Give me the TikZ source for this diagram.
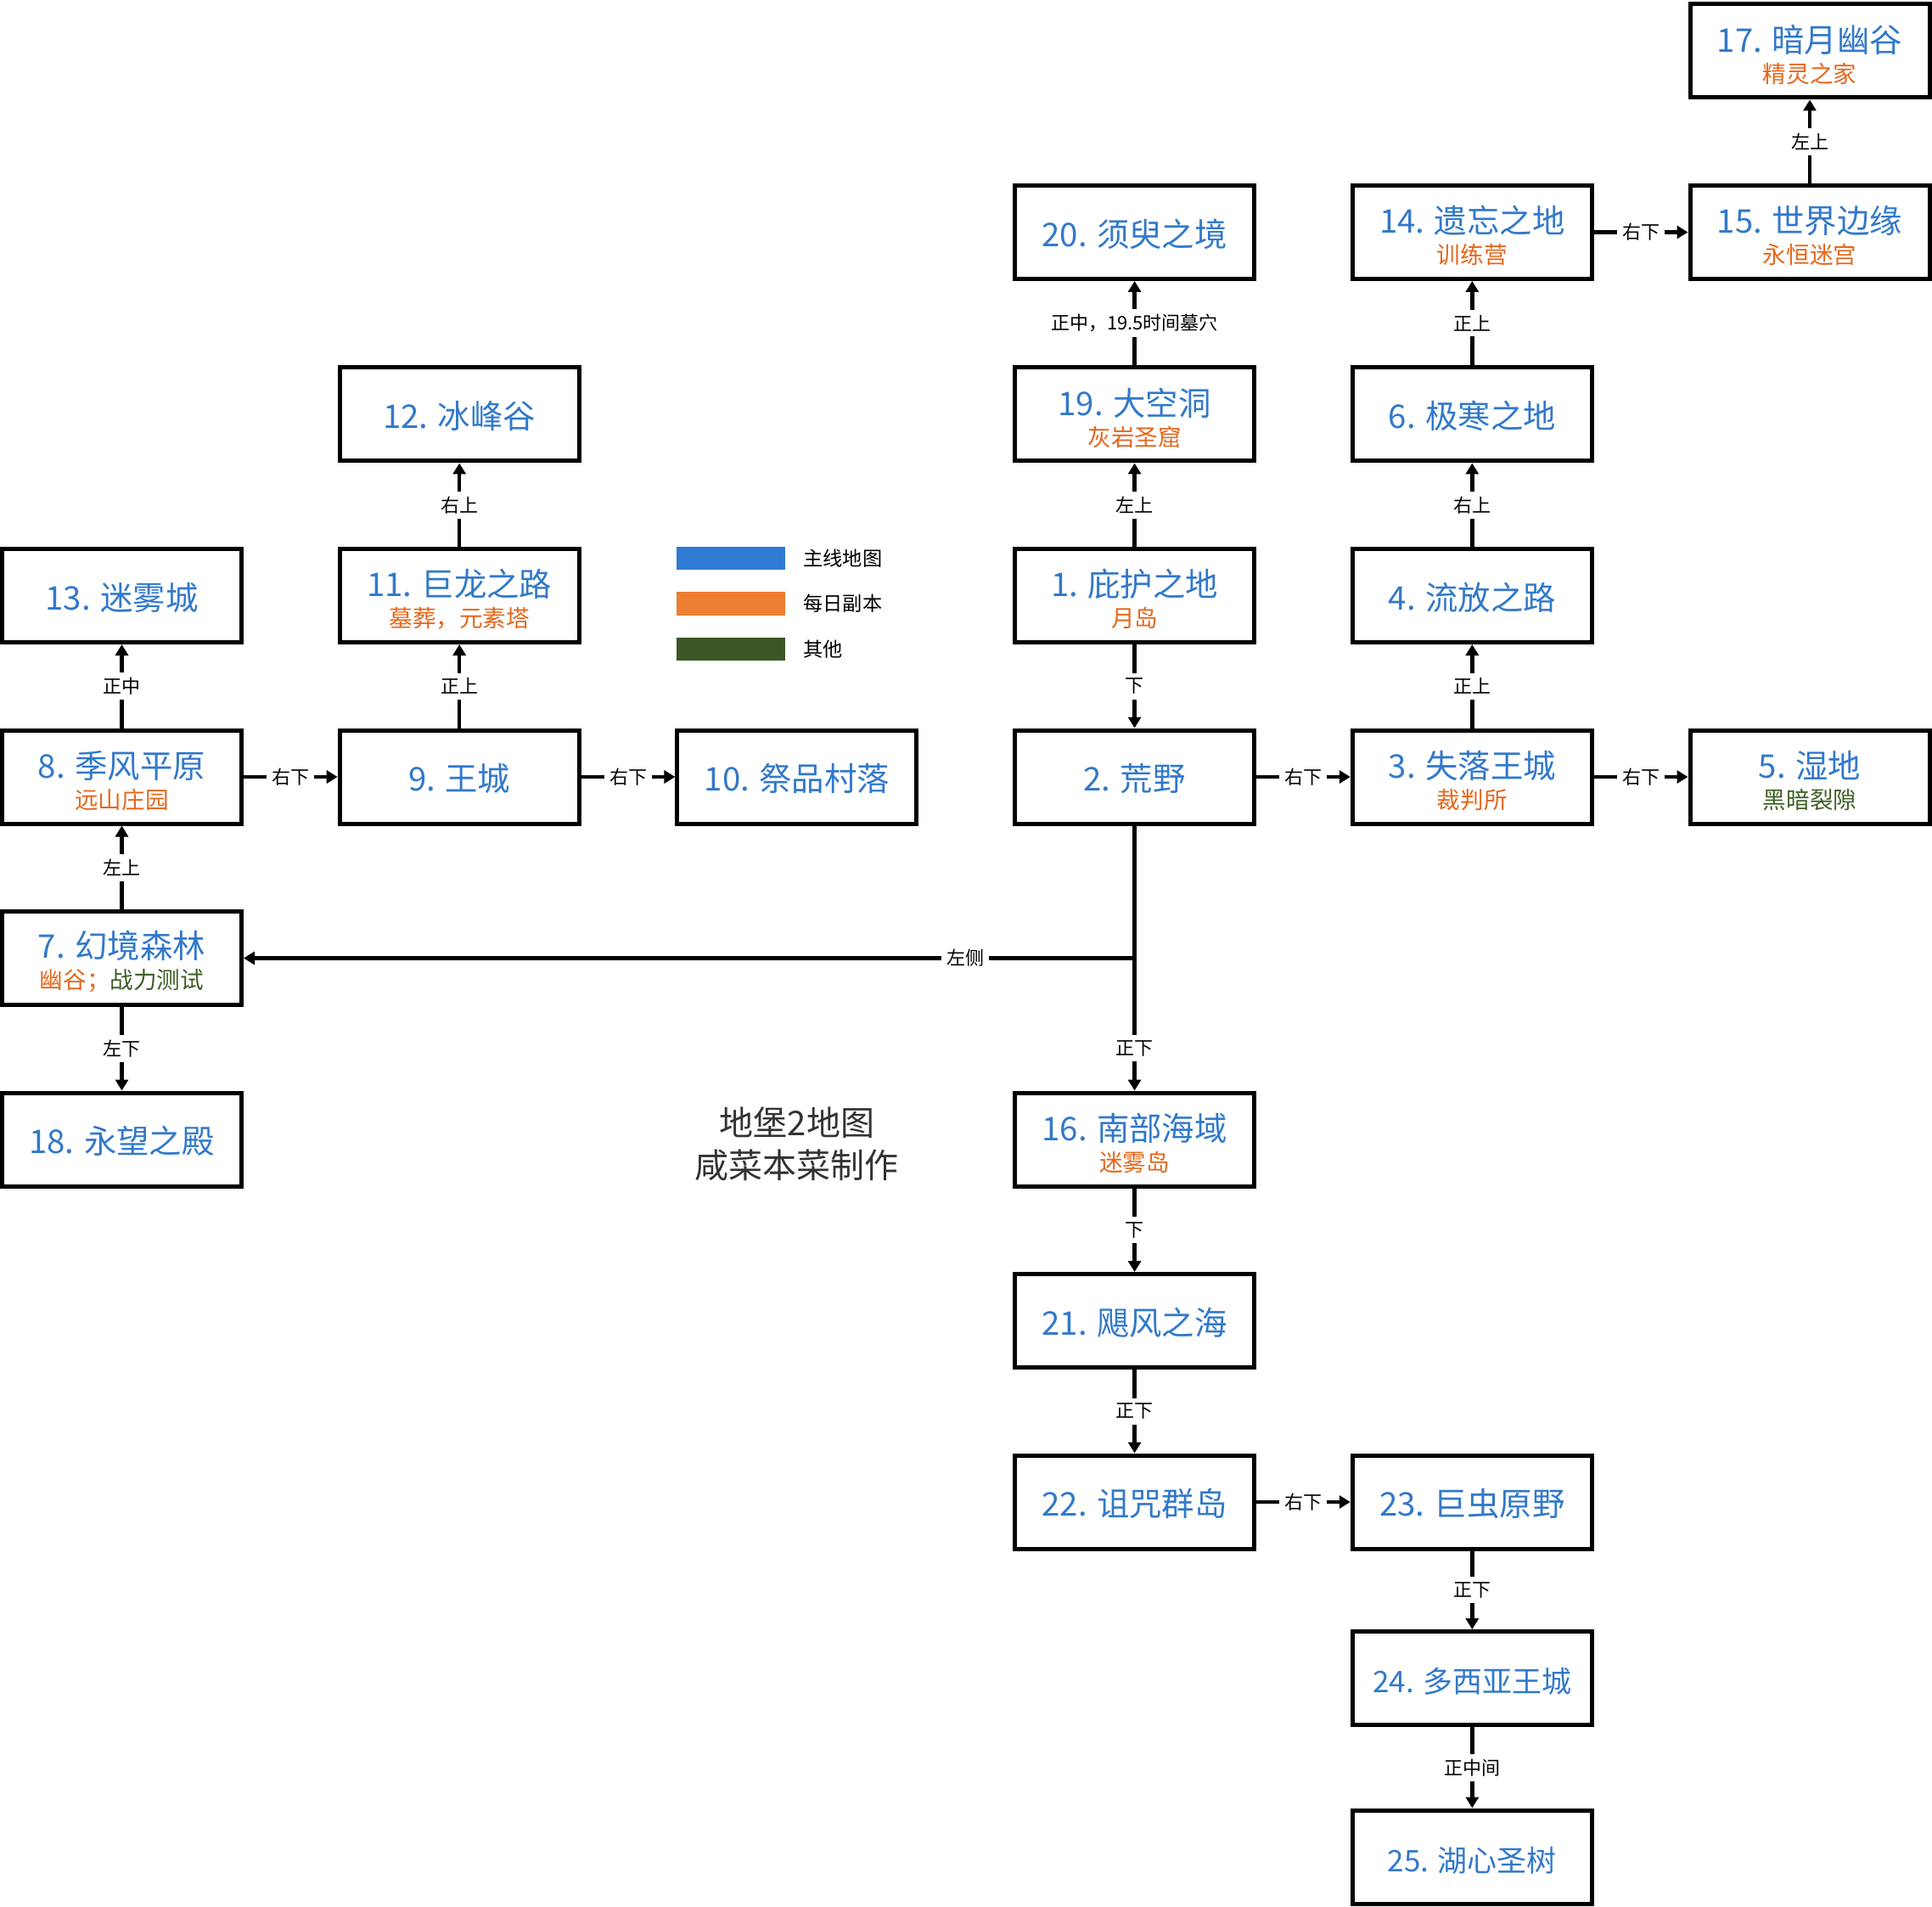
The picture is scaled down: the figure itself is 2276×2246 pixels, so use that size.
\documentclass[tikz,border=0pt]{standalone}
\usepackage{fontspec}
\setmainfont{Noto Sans CJK SC}
\usetikzlibrary{arrows.meta}
\definecolor{mblue}{HTML}{3279C9}
\definecolor{morange}{HTML}{E5661B}
\definecolor{mgreen}{HTML}{3E5F24}
\definecolor{lgblue}{HTML}{2F7BD4}
\definecolor{lgorange}{HTML}{ED7D31}
\definecolor{lggreen}{HTML}{3C5726}
\definecolor{titlegray}{HTML}{333333}
\newcommand{\subo}[1]{\rule{0pt}{20.5pt}\\{\fontsize{13.8pt}{18pt}\selectfont\color{morange}#1}}
\newcommand{\subg}[1]{\rule{0pt}{20.5pt}\\{\fontsize{13.8pt}{18pt}\selectfont\color{mgreen}#1}}
\newcommand{\subog}[2]{\rule{0pt}{20.5pt}\\{\fontsize{13.8pt}{18pt}\selectfont\color{morange}#1\color{mgreen}#2}}
\newcommand{\onel}{\rule{0pt}{18.5pt}}
\tikzset{
  mapbox/.style={draw=black, line width=2.5pt, minimum width=141pt, minimum height=55pt,
    inner sep=0pt, align=center, text=mblue, font=\fontsize{19.2pt}{18pt}\selectfont},
  smallbox/.style={mapbox, font=\fontsize{17.5pt}{18pt}\selectfont},
  conn/.style={line width=2.2pt, -{Triangle[width=7.5pt,length=6.5pt]}},
  lbl/.style={fill=white, inner xsep=3pt, inner ysep=3pt, text=black,
    font=\fontsize{11pt}{12pt}\selectfont},
  swatch/.style={minimum width=64pt, minimum height=13.5pt, inner sep=0pt},
  legtext/.style={anchor=west, inner sep=0pt, text=black, font=\fontsize{11.6pt}{13pt}\selectfont},
  titletext/.style={align=center, text=titlegray, font=\fontsize{20pt}{25pt}\selectfont}
}
\begin{document}
\begin{tikzpicture}[x=0.5pt, y=-0.5pt]
\useasboundingbox (0,0) rectangle (2276,2246);
% columns: 143.5, 541.2, 938.9, 1336.6, 1734.3, 2132
\node[mapbox] (n17) at (2132,60) {17. 暗月幽谷\subo{精灵之家}};
\node[mapbox] (n20) at (1336.6,273.5) {\onel 20. 须臾之境};
\node[mapbox] (n14) at (1734.3,273.5) {14. 遗忘之地\subo{训练营}};
\node[mapbox] (n15) at (2132,273.5) {15. 世界边缘\subo{永恒迷宫}};
\node[mapbox] (n12) at (541.2,488) {\onel 12. 冰峰谷};
\node[mapbox] (n19) at (1336.6,488) {19. 大空洞\subo{灰岩圣窟}};
\node[mapbox] (n6) at (1734.3,488) {\onel 6. 极寒之地};
\node[mapbox] (n13) at (143.5,701.5) {\onel 13. 迷雾城};
\node[mapbox] (n11) at (541.2,701.5) {11. 巨龙之路\subo{墓葬，元素塔}};
\node[mapbox] (n1) at (1336.6,701.5) {1. 庇护之地\subo{月岛}};
\node[mapbox] (n4) at (1734.3,701.5) {\onel 4. 流放之路};
\node[mapbox] (n8) at (143.5,915) {8. 季风平原\subo{远山庄园}};
\node[mapbox] (n9) at (541.2,915) {\onel 9. 王城};
\node[mapbox] (n10) at (938.9,915) {\onel 10. 祭品村落};
\node[mapbox] (n2) at (1336.6,915) {\onel 2. 荒野};
\node[mapbox] (n3) at (1734.3,915) {3. 失落王城\subo{裁判所}};
\node[mapbox] (n5) at (2132,915) {5. 湿地\subg{黑暗裂隙}};
\node[mapbox] (n7) at (143.5,1128.5) {7. 幻境森林\subog{幽谷；}{战力测试}};
\node[mapbox] (n18) at (143.5,1342) {\onel 18. 永望之殿};
\node[mapbox] (n16) at (1336.6,1342) {16. 南部海域\subo{迷雾岛}};
\node[mapbox] (n21) at (1336.6,1555.5) {\onel 21. 飓风之海};
\node[mapbox] (n22) at (1336.6,1769) {\onel 22. 诅咒群岛};
\node[mapbox] (n23) at (1734.3,1769) {\onel 23. 巨虫原野};
\node[smallbox] (n24) at (1734.3,1976.5) {\onel 24. 多西亚王城};
\node[smallbox] (n25) at (1734.3,2187) {\onel 25. 湖心圣树};
% legend
\node[swatch, fill=lgblue] (sw1) at (861,657.5) {};
\node[swatch, fill=lgorange] (sw2) at (861,711) {};
\node[swatch, fill=lggreen] (sw3) at (861,764.5) {};
\node[legtext] (lt1) at (946,657.5) {主线地图};
\node[legtext] (lt2) at (946,711) {每日副本};
\node[legtext] (lt3) at (946,764.5) {其他};
% title
\node[titletext] (title) at (938.9,1347) {地堡2地图\\咸菜本菜制作};
% connectors
\draw[conn] (n15) -- (n17) node[midway, lbl] {左上};
\draw[conn] (n14) -- (n15) node[midway, lbl] {右下};
\draw[conn] (n6) -- (n14) node[midway, lbl] {正上};
\draw[conn] (n4) -- (n6) node[midway, lbl] {右上};
\draw[conn] (n3) -- (n4) node[midway, lbl] {正上};
\draw[conn] (n2) -- (n3) node[midway, lbl] {右下};
\draw[conn] (n3) -- (n5) node[midway, lbl] {右下};
\draw[conn] (n1) -- (n2) node[midway, lbl] {下};
\draw[conn] (n1) -- (n19) node[midway, lbl] {左上};
\draw[conn] (n19) -- (n20) node[midway, lbl] {正中，19.5时间墓穴};
\draw[conn] (n2) -- (n16) node[pos=0.84, lbl] {正下};
\coordinate (j27) at (n2 |- n7);
\draw[conn] (j27) -- (n7) node[pos=0.19, lbl] {左侧};
\draw[conn] (n7) -- (n8) node[midway, lbl] {左上};
\draw[conn] (n7) -- (n18) node[midway, lbl] {左下};
\draw[conn] (n8) -- (n13) node[midway, lbl] {正中};
\draw[conn] (n8) -- (n9) node[midway, lbl] {右下};
\draw[conn] (n9) -- (n11) node[midway, lbl] {正上};
\draw[conn] (n11) -- (n12) node[midway, lbl] {右上};
\draw[conn] (n9) -- (n10) node[midway, lbl] {右下};
\draw[conn] (n16) -- (n21) node[midway, lbl] {下};
\draw[conn] (n21) -- (n22) node[midway, lbl] {正下};
\draw[conn] (n22) -- (n23) node[midway, lbl] {右下};
\draw[conn] (n23) -- (n24) node[midway, lbl] {正下};
\draw[conn] (n24) -- (n25) node[midway, lbl] {正中间};
\end{tikzpicture}
\end{document}
